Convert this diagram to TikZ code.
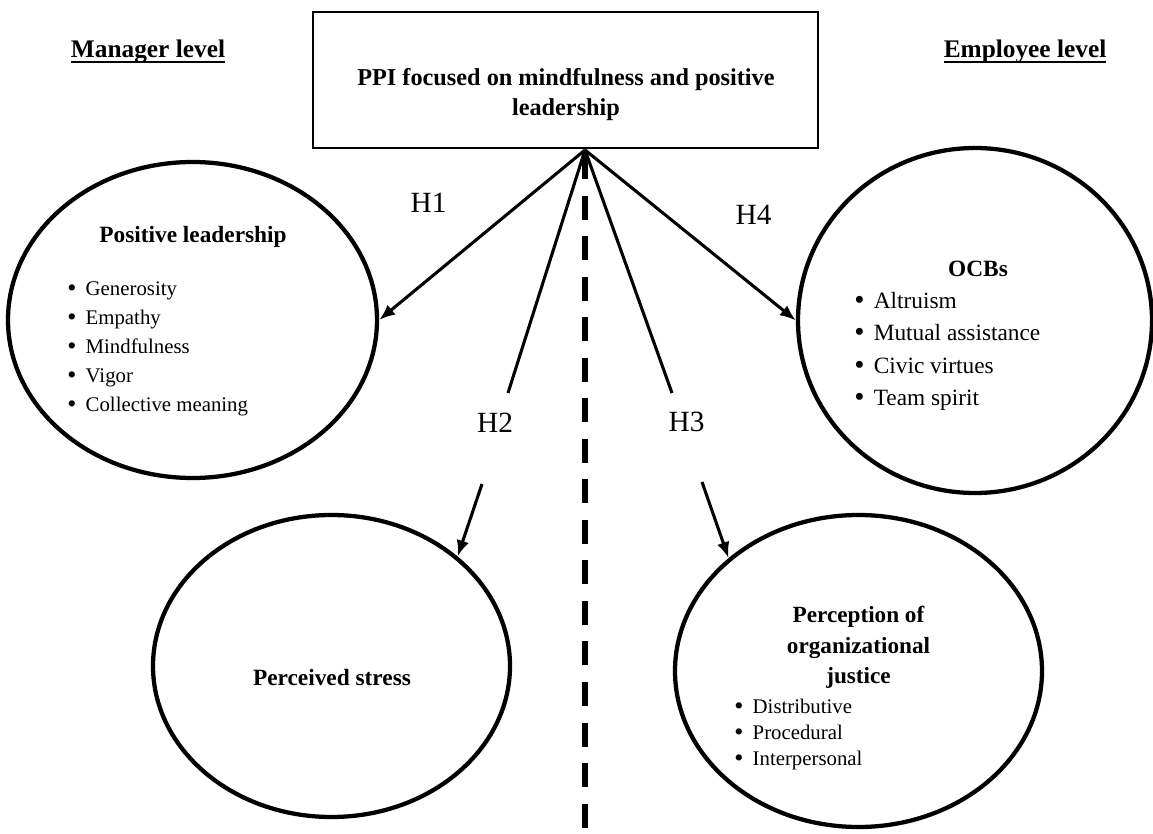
\documentclass[tikz,border=0pt]{standalone}
\usepackage{fontspec}
\setmainfont{Liberation Serif}
\usetikzlibrary{shapes.geometric,arrows.meta}
\newcommand{\myul}[1]{\setbox0\hbox{#1}\rlap{\raisebox{-4pt}{\rule{\wd0}{1.5pt}}}\box0}
\newcommand{\bul}{\raisebox{-0.05em}{\scalebox{1.25}{\textbullet}}\hspace{7pt}}
\begin{document}
\begin{tikzpicture}[x=0.75pt,y=-0.75pt,
  oval/.style={draw, ellipse, line width=3.2pt, inner sep=0pt},
  topbox/.style={draw, rectangle, line width=2pt, inner sep=0pt},
  arr/.style={line width=2.3pt, -{Latex[length=12pt,width=9.5pt]}},
  hline/.style={line width=2.3pt},
  divider/.style={line width=5.2pt, dash pattern=on 18pt off 12.4pt, dash phase=26.6pt},
  head/.style={font=\bfseries\fontsize{19}{22}\selectfont, inner sep=0pt, anchor=base},
  ttl/.style={font=\bfseries\fontsize{17.5}{23}\selectfont, inner sep=0pt, align=center},
  hyp/.style={font=\fontsize{22}{26}\selectfont, inner sep=0pt, anchor=base},
  smalllist/.style={font=\fontsize{15.6}{19.5}\selectfont, inner sep=0pt, align=left, anchor=north west},
]
\useasboundingbox (0,0) rectangle (1153,834);

% headings
\node[head] (mgr) at (148,58) {\myul{Manager level}};
\node[head] (emp) at (1025,58) {\myul{Employee level}};

% top box
\node[topbox, minimum width=378.75pt, minimum height=102pt] (ppi) at (565.5,80) {};
\node[font=\bfseries\fontsize{18.2}{22.5}\selectfont, inner sep=0pt, align=center, anchor=north] (ppitext) at (566,68.5)
  {PPI focused on mindfulness and positive\\leadership};

% ellipses
\node[oval, minimum width=276.75pt, minimum height=237pt] (pl) at (192.5,320) {};
\node[oval, minimum width=265.5pt, minimum height=258.75pt] (ocb) at (975,320.5) {};
\node[oval, minimum width=267.75pt, minimum height=226.5pt] (ps) at (331.5,666) {};
\node[oval, minimum width=275.25pt, minimum height=234pt] (pj) at (858.5,671) {};

% ellipse contents
\node[ttl, anchor=north] (pltitle) at (193,226) {Positive leadership};
\node[smalllist, font=\fontsize{15.6}{21.75}\selectfont] (pllist) at (67,281)
  {\bul Generosity\\ \bul Empathy\\ \bul Mindfulness\\ \bul Vigor\\ \bul Collective meaning};

\node[ttl, anchor=base] (ocbtitle) at (978,277) {OCBs};
\node[smalllist, font=\fontsize{17.5}{24.25}\selectfont] (ocblist) at (854,292)
  {\bul Altruism\\ \bul Mutual assistance\\ \bul Civic virtues\\ \bul Team spirit};

\node[ttl, anchor=base] (pstitle) at (332,685) {Perceived stress};

\node[ttl, anchor=north, font=\bfseries\fontsize{17.4}{22.9}\selectfont] (pjtitle) at (858.5,606)
  {Perception of\\organizational\\justice};
\node[smalllist] (pjlist) at (734,699)
  {\bul Distributive\\ \bul Procedural\\ \bul Interpersonal};

% divider
\coordinate (apex) at (585,150);
\coordinate (dashend) at (585,834);
\draw[divider] (apex) -- (dashend);

% hypotheses
\coordinate (h2a) at (508,393);
\coordinate (h2b) at (482,484);
\coordinate (h3a) at (672,393);
\coordinate (h3b) at (702,482);

\draw[arr] (apex) -- (pl.east);
\draw[arr] (apex) -- (ocb.west);
\draw[hline] (apex) -- (h2a);
\draw[arr] (h2b) -- (ps.41);
\draw[hline] (apex) -- (h3a);
\draw[arr] (h3b) -- (pj.139);

\node[hyp] (H1) at (428.5,213) {H1};
\node[hyp] (H2) at (495,432) {H2};
\node[hyp] (H3) at (686.5,431) {H3};
\node[hyp] (H4) at (753.5,225) {H4};
\end{tikzpicture}
\end{document}
